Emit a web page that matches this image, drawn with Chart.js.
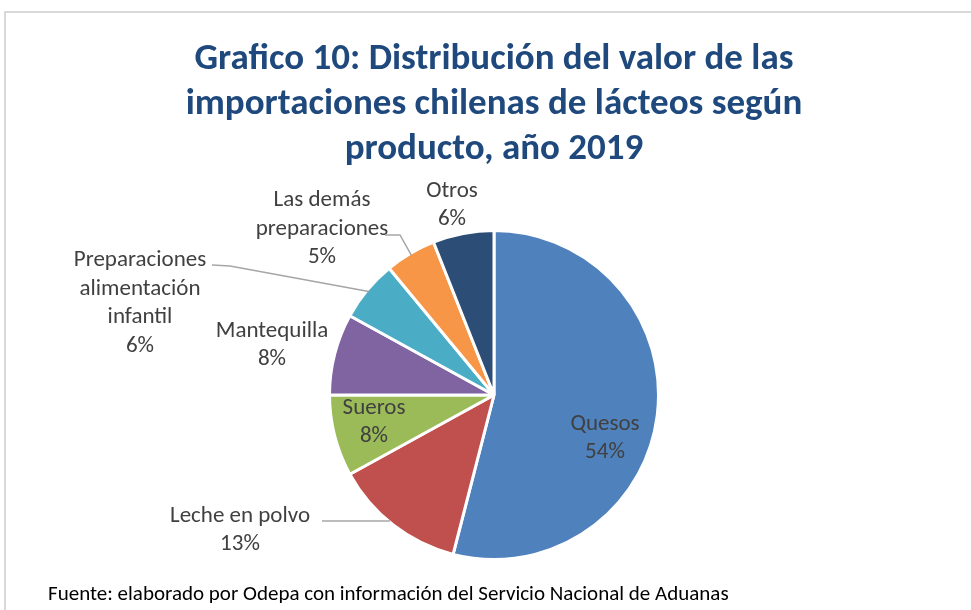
<!DOCTYPE html>
<html>
<head>
<meta charset="utf-8">
<script src="https://cdn.jsdelivr.net/npm/chart.js@4"></script>
<style>
  html, body { margin: 0; padding: 0; background: #fff; }
  body { width: 971px; height: 610px; position: relative; overflow: hidden; font-family: Carlito, Lato, "Open Sans", sans-serif; }
  #frame { position: absolute; left: 4px; top: 11px; width: 990px; height: 640px; border: 2px solid #d9d9d9; box-sizing: border-box; }
  #title { position: absolute; left: 0; top: 34px; width: 988px; text-align: center; color: #1f497d; font-weight: bold; font-size: 37px; line-height: 45px; }
  #note { position: absolute; left: 48px; top: 580px; font-size: 21px; color: #000; }
  #wrap { position: absolute; left: 0; top: 0; width: 971px; height: 610px; }
</style>
</head>
<body>
<div id="frame"></div>
<div id="wrap"><canvas id="pieChart" width="971" height="610"></canvas></div>
<div id="title">Grafico 10: Distribución del valor de las<br>importaciones chilenas de lácteos según<br>producto, año 2019</div>
<div id="note">Fuente: elaborado por Odepa con información del Servicio Nacional de Aduanas</div>
<script>
// Data
const categories = ["Quesos", "Leche en polvo", "Sueros", "Mantequilla",
  "Preparaciones alimentación infantil", "Las demás preparaciones", "Otros"];
const shares = [54, 13, 8, 8, 6, 5, 6];
const colors = ["#4f81bd", "#c0504d", "#9bbb59", "#8064a2", "#4bacc6", "#f79646", "#2c4d75"];

// label text lines per slice, and where to put them (offset from pie centre)
const labelLines = [
  ["Quesos"], ["Leche en polvo"], ["Sueros"], ["Mantequilla"],
  ["Preparaciones", "alimentación", "infantil"], ["Las demás", "preparaciones"], ["Otros"]
];
const labelPos = [
  { dx: 111, dy: 43 }, { dx: -254, dy: 135 }, { dx: -120, dy: 27 }, { dx: -222, dy: -50 },
  { dx: -354, dy: -92 }, { dx: -172, dy: -166 }, { dx: -42, dy: -190 }
];
// leader lines: label end and elbow, relative to centre; the line ends at the slice edge
const leaders = [
  null,
  { from: [-172, 126], elbow: [-104, 126] },
  null, null,
  { from: [-282, -130], elbow: [-264, -129] },
  { from: [-109, -160], elbow: [-94, -160] },
  null
];

const labelPlugin = {
  id: "sliceLabels",
  afterDatasetsDraw(chart) {
    const ctx = chart.ctx;
    const arcs = chart.getDatasetMeta(0).data;
    const cx = arcs[0].x, cy = arcs[0].y;
    ctx.save();
    ctx.font = "23px Carlito, Lato, 'Open Sans', sans-serif";
    ctx.fillStyle = "#404040";
    ctx.textAlign = "center";
    ctx.textBaseline = "middle";
    arcs.forEach((arc, i) => {
      const lines = labelLines[i].concat([shares[i] + "%"]);
      const p = labelPos[i];
      const top = cy + p.dy - (lines.length - 1) * 28.5 / 2;
      lines.forEach((t, k) => ctx.fillText(t, cx + p.dx, top + k * 28.5));
      const l = leaders[i];
      if (l) {
        const mid = (arc.startAngle + arc.endAngle) / 2;
        const r = arc.outerRadius - 2;
        ctx.strokeStyle = "#a6a6a6";
        ctx.lineWidth = 1.5;
        ctx.beginPath();
        ctx.moveTo(cx + l.from[0], cy + l.from[1]);
        if (i === 1) ctx.lineTo(cx + l.elbow[0], cy + l.elbow[1]);
        else {
          ctx.lineTo(cx + l.elbow[0], cy + l.elbow[1]);
          ctx.lineTo(cx + r * Math.cos(mid), cy + r * Math.sin(mid));
        }
        ctx.stroke();
      }
    });
    ctx.restore();
  }
};

new Chart(document.getElementById("pieChart"), {
  type: "pie",
  data: {
    labels: categories,
    datasets: [{
      data: shares,
      backgroundColor: colors,
      borderColor: "#ffffff",
      borderWidth: 3
    }]
  },
  options: {
    responsive: false,
    animation: false,
    layout: { padding: { top: 229, bottom: 49, left: 198, right: 181 } },
    plugins: {
      legend: { display: false },
      tooltip: { enabled: false }
    }
  },
  plugins: [labelPlugin]
});
</script>
</body>
</html>
